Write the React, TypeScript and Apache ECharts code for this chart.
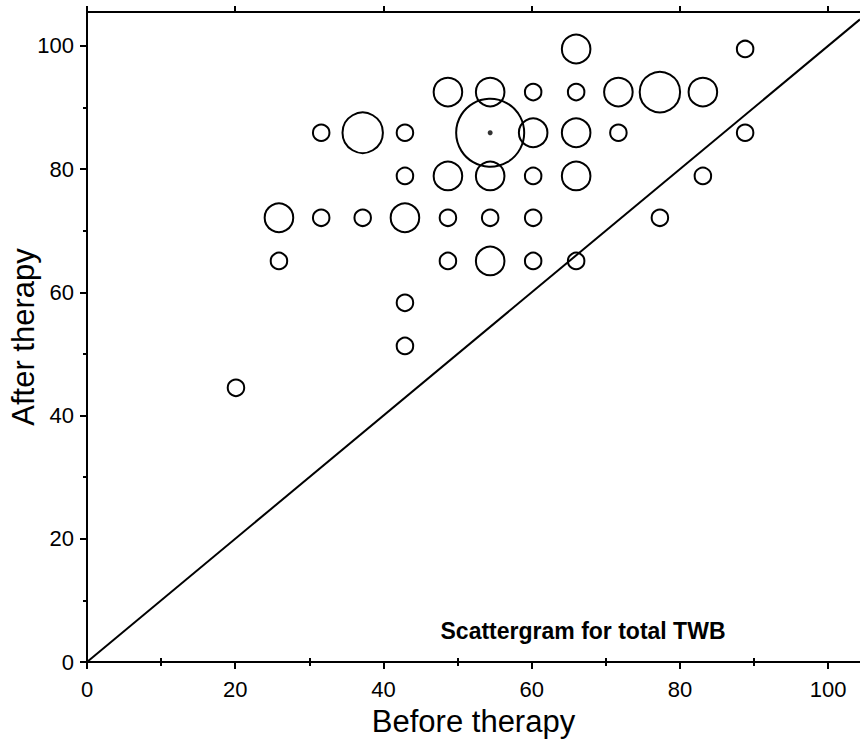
import React, { useEffect, useRef } from "react";
import * as echarts from "echarts";

// Before therapy (x), after therapy (y), number of patients at that point (bubble size)
const beforeTherapy = [
  66.0, 88.8,
  48.7, 54.4, 60.2, 66.0, 71.7, 77.3, 83.1,
  31.6, 37.2, 42.9, 54.4, 60.2, 66.0, 71.7, 88.8,
  42.9, 48.7, 54.4, 60.2, 66.0, 83.1,
  25.9, 31.6, 37.2, 42.9, 48.7, 54.4, 60.2, 77.3,
  25.9, 48.7, 54.4, 60.2, 66.0,
  42.9,
  42.9,
  20.1,
];
const afterTherapy = [
  99.5, 99.5,
  92.5, 92.5, 92.5, 92.5, 92.5, 92.5, 92.5,
  85.9, 85.9, 85.9, 85.9, 85.9, 85.9, 85.9, 85.9,
  78.9, 78.9, 78.9, 78.9, 78.9, 78.9,
  72.1, 72.1, 72.1, 72.1, 72.1, 72.1, 72.1, 72.1,
  65.1, 65.1, 65.1, 65.1, 65.1,
  58.3,
  51.3,
  44.5,
];
const patientCount = [
  3, 1,
  3, 3, 1, 1, 3, 6, 3,
  1, 6, 1, 17, 3, 3, 1, 1,
  1, 3, 3, 1, 3, 1,
  3, 1, 1, 3, 1, 1, 1, 1,
  1, 1, 3, 1, 1,
  1,
  1,
  1,
];

const majorTicks = [0, 20, 40, 60, 80, 100];
const minorTicks = [10, 30, 50, 70, 90];
const X_MAX = 104.3;
const Y_MAX = 105.5;
const annotation = "Scattergram for total TWB";
const xTitle = "Before therapy";
const yTitle = "After therapy";

const FONT = "Liberation Sans, Arial, sans-serif";

export default function App() {
  const ref = useRef<HTMLDivElement>(null);
  useEffect(() => {
    if (!ref.current) return;
    const chart = echarts.init(ref.current, undefined, { renderer: "svg" });
    const points = beforeTherapy.map((x, i) => [x, afterTherapy[i], patientCount[i]]);
    const maxCount = Math.max(...patientCount);
    const centerPts = points.filter((p) => p[2] === maxCount);
    const lineStyle = { color: "#000", width: 2 };
    const baseAxis = (extra: any) => ({
      type: "value",
      min: 0,
      splitLine: { show: false },
      axisLine: { show: true, onZero: false, lineStyle },
      ...extra,
    });
    const option: any = {
      animation: false,
      backgroundColor: "#fff",
      grid: {
        left: 87,
        right: 0,
        top: 12,
        bottom: 87,
        containLabel: false,
        outerBoundsMode: "none",
      },
      xAxis: [
        baseAxis({
          position: "bottom",
          max: X_MAX,
          axisTick: { show: true, customValues: majorTicks, length: 7, lineStyle },
          axisLabel: {
            customValues: majorTicks,
            fontSize: 22,
            color: "#000",
            fontFamily: FONT,
            margin: 16,
          },
          name: xTitle,
          nameLocation: "middle",
          nameGap: 44,
          nameMoveOverlap: false,
          nameTextStyle: { fontSize: 31, color: "#000", fontFamily: FONT },
        }),
        baseAxis({
          position: "bottom",
          max: X_MAX,
          axisLine: { show: false },
          axisTick: { show: true, customValues: minorTicks, length: 4, lineStyle },
          axisLabel: { show: false },
        }),
        baseAxis({
          position: "top",
          max: X_MAX,
          axisTick: { show: true, customValues: majorTicks, length: 6, lineStyle },
          axisLabel: { show: false },
        }),
        baseAxis({
          position: "top",
          max: X_MAX,
          axisLine: { show: false },
          axisTick: { show: true, customValues: minorTicks, length: 4, lineStyle },
          axisLabel: { show: false },
        }),
      ],
      yAxis: [
        baseAxis({
          position: "left",
          max: Y_MAX,
          axisTick: { show: true, customValues: majorTicks, length: 7, lineStyle },
          axisLabel: {
            customValues: majorTicks,
            fontSize: 22,
            color: "#000",
            fontFamily: FONT,
            margin: 13,
          },
          name: yTitle,
          nameLocation: "middle",
          nameGap: 48,
          nameMoveOverlap: false,
          nameTextStyle: { fontSize: 31, color: "#000", fontFamily: FONT },
        }),
        baseAxis({
          position: "left",
          max: Y_MAX,
          axisLine: { show: false },
          axisTick: { show: true, customValues: minorTicks, length: 4, lineStyle },
          axisLabel: { show: false },
        }),
      ],
      graphic: [
        {
          type: "text",
          x: 583,
          y: 631,
          style: {
            text: annotation,
            fontSize: 23,
            fontWeight: "bold",
            fill: "#000",
            fontFamily: FONT,
            align: "center",
            verticalAlign: "middle",
          },
        },
      ],
      series: [
        {
          type: "line",
          xAxisIndex: 0,
          yAxisIndex: 0,
          data: [
            [0, 0],
            [X_MAX, X_MAX],
          ],
          symbol: "none",
          lineStyle: { color: "#000", width: 2 },
          silent: true,
        },
        {
          type: "scatter",
          xAxisIndex: 0,
          yAxisIndex: 0,
          data: points,
          symbol: "circle",
          symbolSize: (v: number[]) => 16.5 * Math.sqrt(v[2]),
          itemStyle: { color: "rgba(0,0,0,0)", borderColor: "#000", borderWidth: 2, opacity: 1 },
          silent: true,
        },
        {
          type: "scatter",
          xAxisIndex: 0,
          yAxisIndex: 0,
          data: centerPts,
          symbol: "circle",
          symbolSize: 5,
          itemStyle: { color: "#000" },
          silent: true,
        },
      ],
    };
    chart.setOption(option);
    return () => chart.dispose();
  }, []);
  return (
    <div
      ref={ref}
      style={{ position: "absolute", left: 0, top: 0, width: 860, height: 749, background: "#fff" }}
    />
  );
}
